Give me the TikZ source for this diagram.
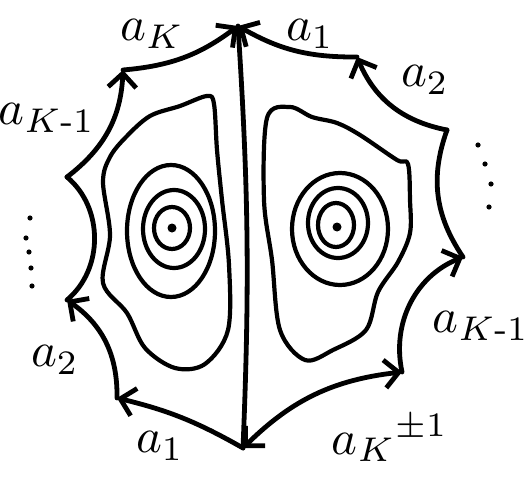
\documentclass[tikz,border=0pt]{standalone}
\usepackage{amsmath,amssymb}
\usetikzlibrary{arrows.meta, positioning}

\begin{document}
\begin{tikzpicture}[x=0.5pt, y=-0.5pt, line cap=round, line join=round,
    >={Straight Barb[length=7pt, width=14pt]},
    side/.style={draw, line width=2.4pt},
    level/.style={draw, line width=2.1pt},
    lbl/.style={scale=2.45, inner sep=0pt},
    dot/.style={fill, circle, inner sep=0pt, minimum size=2.6pt}]

    \useasboundingbox (0,0) rectangle (530,481);

    % corners of the polygon
    \coordinate (T)  at (238,26);
    \coordinate (H)  at (357,57);
    \coordinate (G)  at (447,130);
    \coordinate (F)  at (463,257);
    \coordinate (E)  at (402,372);
    \coordinate (Bt) at (243,448);
    \coordinate (D)  at (117,398);
    \coordinate (C)  at (67,300);
    \coordinate (B)  at (67,177);
    \coordinate (A)  at (123,70);

    % sides
    \draw [side, ->] (A) to[bend right=16] (T);
    \draw [side, ->] (H) to[bend left=15] (T);
    \draw [side, ->] (G) to[bend left=28] (H);
    \draw [side] (G) to[bend right=27] (F);
    \draw [side, ->] (E) to[bend left=40] (F);
    \draw [side, <->] (Bt) to[bend left=19] (E);
    \draw [side, ->] (Bt) to[bend right=8] (D);
    \draw [side, ->] (D) to[bend right=28] (C);
    \draw [side] (C) to[bend right=50] (B);
    \draw [side, ->] (B) to[bend right=25] (A);
    \draw [side] (T) to[bend left=3] (Bt);

    % level curves, left half
    \draw [level] plot[smooth cycle, tension=0.55] coordinates {(103,182) (110,157) (126,137) (150,116) (180,106) (207,96) (214,104) (217,150) (222,200) (229,265) (228,330) (205,364) (175,368) (145,348) (127,313) (103,283) (110,235)};
    \draw [level] (171,231) ellipse [x radius=22pt, y radius=33pt];
    \draw [level] (174,229) ellipse [x radius=15.5pt, y radius=19.5pt];
    \draw [level] (172,228) ellipse [x radius=9pt, y radius=10.5pt];
    \node [dot, minimum size=4.5pt] (pl) at (172,228) {};

    % level curves, right half
    \draw [level] plot[smooth cycle, tension=0.55] coordinates {(267,118) (290,107) (312,117) (337,123) (360,135) (397,160) (408,164) (410,200) (410,233) (398,262) (378,292) (366,330) (333,350) (305,360) (280,330) (272,260) (264,200)};
    \draw [level] (340,229) ellipse [x radius=24pt, y radius=28pt];
    \draw [level] (338,223) ellipse [x radius=15pt, y radius=17.5pt];
    \draw [level] (336,225) ellipse [x radius=9pt, y radius=11pt];
    \node [dot, minimum size=4.5pt] (pr) at (337,227) {};

    % labels of the sides
    \node [lbl] (lak)  at (152,34)  {$a_K$};
    \node [lbl] (lakm) at (47,118)  {$a_{K\text{-}1}$};
    \node [lbl] (la1)  at (310,34)  {$a_1$};
    \node [lbl] (la2)  at (425,80)  {$a_2$};
    \node [lbl] (lb2)  at (55,360)  {$a_2$};
    \node [lbl] (lb1)  at (160,446) {$a_1$};
    \node [lbl] (lbkm) at (481,326) {$a_{K\text{-}1}$};
    \node [lbl] (lbk)  at (390,438) {$a_K{}^{\pm 1}$};

    % omitted sides
    \foreach \p [count=\i] in {(30,218),(26,238),(29,252),(31,268),(32,286)}
        \node [dot] (dl\i) at \p {};
    \foreach \p [count=\i] in {(478,145),(485,164),(491,184),(489,207)}
        \node [dot] (dr\i) at \p {};
\end{tikzpicture}
\end{document}
